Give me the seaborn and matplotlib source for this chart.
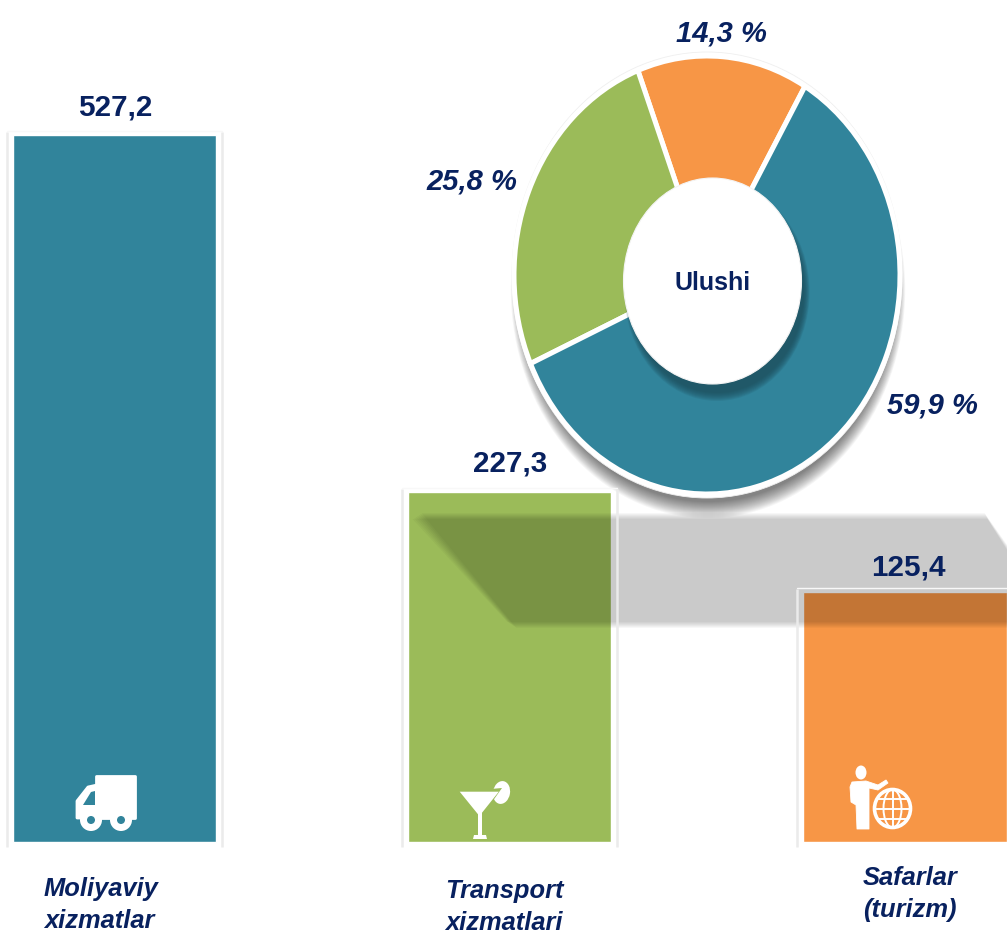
import matplotlib
matplotlib.use("Agg")
import matplotlib.pyplot as plt
import numpy as np
import pandas as pd
import seaborn as sns
from matplotlib.patches import Ellipse, Polygon, Rectangle

# ---- data ----
categories = ["Moliyaviy\nxizmatlar", "Transport\nxizmatlari", "Safarlar\n(turizm)"]
bar_labels = ["527,2", "227,3", "125,4"]
# The printed values are not proportional in the reference: these are the drawn bar lengths.
bar_lengths = [707, 350, 250]
share_names = ["Safarlar", "Transport", "Moliyaviy"]
share_values = [14.3, 25.8, 59.9]
share_labels = ["14,3 %", "25,8 %", "59,9 %"]
centre_label = "Ulushi"

TEAL, GREEN, ORANGE = "#31849b", "#9bbb59", "#f79646"
NAVY = "#08215f"
W, H = 1007, 935

sns.set_theme(style="white")
plt.rcParams["font.family"] = ["Liberation Sans", "DejaVu Sans"]
fig = plt.figure(figsize=(W / 100, H / 100), dpi=100, facecolor="white")


def overlay(z):
    a = fig.add_axes([0, 0, 1, 1], zorder=z, facecolor="none")
    a.set_xlim(0, W)
    a.set_ylim(H, 0)
    a.axis("off")
    return a


# ---- bars ----
ax = fig.add_axes([0, 0, 1, 1], zorder=0)
df = pd.DataFrame({"cat": categories, "len": bar_lengths})
sns.barplot(data=df, x="cat", y="len", hue="cat", palette=[TEAL, GREEN, ORANGE],
            width=0.514, legend=False, saturation=1, ax=ax)
ax.set_xlim(-0.29, 2.258)
ax.set_ylim(-93, 842)
ax.axis("off")

under = overlay(1)
# pale frame around each bar
x_trans = lambda v: (v + 0.29) / (2.258 + 0.29) * W
for p in ax.patches:
    x0 = x_trans(p.get_x())
    x1 = x_trans(p.get_x() + p.get_width())
    bar_top = 842 - p.get_height()
    for xx in (x0 - 6, x1 + 6):
        under.plot([xx, xx], [bar_top - 3, 847], color="#ebebeb", lw=1.8, solid_capstyle="butt")
    under.plot([x0 - 6, x1 + 6], [bar_top - 4, bar_top - 4], color="#f8f8f8", lw=1)

# grey band over the bars, with soft edges made of growing layers
layers = [3, 2, 1, 0, -1, -2, -3]
a_each = 1 - (1 - 0.21) ** (1 / len(layers))
for d in layers:
    band = [(417 - d * 1.5, 516 + d), (986 + d * 0.5, 516 + d), (1010, 552 + d),
            (1010, 625 - d), (512 - d * 1.5, 625 - d)]
    under.add_patch(Polygon(band, closed=True, fc="black", ec="none", alpha=a_each))

# pie shadow and white rim
for k in range(16, -1, -1):
    under.add_patch(Ellipse((708, 290), 2 * (186 + k * 0.7), 2 * (212 + k), fc="black", ec="none", alpha=0.035))
under.add_patch(Ellipse((707, 275), 390, 446, fc="white", ec="#efefef", lw=0.6))

# icons
WHITE = "white"
# truck
under.add_patch(Rectangle((96, 776), 39, 42, fc=WHITE, ec=WHITE, lw=2, joinstyle="round"))
under.add_patch(Polygon([(77, 818), (77, 801), (88, 787), (97, 785), (97, 818)], fc=WHITE, ec=WHITE, lw=2, joinstyle="round"))
under.add_patch(Polygon([(83, 805), (95, 805), (95, 791), (91, 792)], fc=TEAL, ec="none"))
for wx in (91, 121):
    under.add_patch(Ellipse((wx, 820), 22, 22, fc=WHITE, ec="none"))
    under.add_patch(Ellipse((wx, 820), 8, 8, fc=TEAL, ec="none"))
# martini
under.add_patch(Ellipse((501.5, 792.5), 17, 23, angle=10, fc=WHITE, ec="none"))
under.add_patch(Polygon([(459.7, 791.7), (502, 788), (480, 819)], fc=GREEN, ec="none"))
under.add_patch(Polygon([(459.7, 791.7), (498.8, 791.7), (479.4, 816)], fc=WHITE, ec="none"))
under.add_patch(Rectangle((477.7, 812), 4.2, 24, fc=WHITE, ec="none"))
under.add_patch(Polygon([(473, 839), (487, 839), (486, 835), (474, 835)], fc=WHITE, ec="none"))
# person and globe
under.add_patch(Ellipse((861, 772.5), 11, 14, fc=WHITE, ec="none"))
under.add_patch(Polygon([(852, 782), (866, 781), (878, 785), (886, 780), (888, 783), (878, 790), (869, 788), (869, 829),
                         (857, 829), (856, 805), (851, 802), (850, 787)],
                        fc=WHITE, ec=WHITE, lw=0.6, joinstyle="round"))
gx, gy, grx, gry = 892.5, 808.5, 18, 19
under.add_patch(Ellipse((gx, gy), 2 * grx, 2 * gry, fc=ORANGE, ec=WHITE, lw=2.6))
under.add_patch(Ellipse((gx, gy), grx, 2 * gry, fc="none", ec=WHITE, lw=1.4))
under.plot([gx, gx], [gy - gry, gy + gry], color=WHITE, lw=1.4)
under.plot([gx - grx, gx + grx], [gy, gy], color=WHITE, lw=1.4)
for dy in (-10, 10):
    hw = grx * np.sqrt(1 - (dy / gry) ** 2)
    under.plot([gx - hw, gx + hw], [gy + dy, gy + dy], color=WHITE, lw=1.4)

# ---- pie, stretched as in the reference ----
cx, cy, rx, ry = 707, 275, 193, 219
pie_ax = fig.add_axes([(cx - rx) / W, 1 - (cy + ry) / H, 2 * rx / W, 2 * ry / H], zorder=2, facecolor="none")
pie_ax.pie(share_values, colors=[ORANGE, GREEN, TEAL], startangle=59.5, counterclock=True,
           radius=1, wedgeprops=dict(edgecolor="white", linewidth=3.6))
pie_ax.set_aspect("auto")
pie_ax.set_xlim(-1, 1)
pie_ax.set_ylim(-1, 1)
pie_ax.axis("off")

top = overlay(3)
# hole and its shadow
for k in range(8, -1, -1):
    top.add_patch(Ellipse((717, 292), 2 * (87 + k * 0.7), 2 * (101 + k), fc="#1c4a57", ec="none", alpha=0.13))
top.add_patch(Ellipse((712.5, 281), 178, 206, fc="white", ec="#f4f4f4", lw=0.8))
top.text(712.5, 283, centre_label, ha="center", va="center", fontsize=18, fontweight="bold", color=NAVY)

# texts
for x, y, s in zip([115, 510, 908], [107, 464, 567], bar_labels):
    top.text(x, y, s, ha="center", va="center", fontsize=21.3, fontweight="bold", color=NAVY)
for x, y, s in zip([721, 472, 932], [33, 182, 405], share_labels):
    top.text(x, y, s, ha="center", va="center", fontsize=21, fontweight="bold", style="italic", color=NAVY)
for x, y, s in zip([44, 445, 863], [905, 907, 894], categories):
    top.text(x, y, s, ha="left", va="center", fontsize=18.4, fontweight="bold", style="italic",
             color=NAVY, linespacing=1.38)

fig.savefig("out.png", dpi=100)
